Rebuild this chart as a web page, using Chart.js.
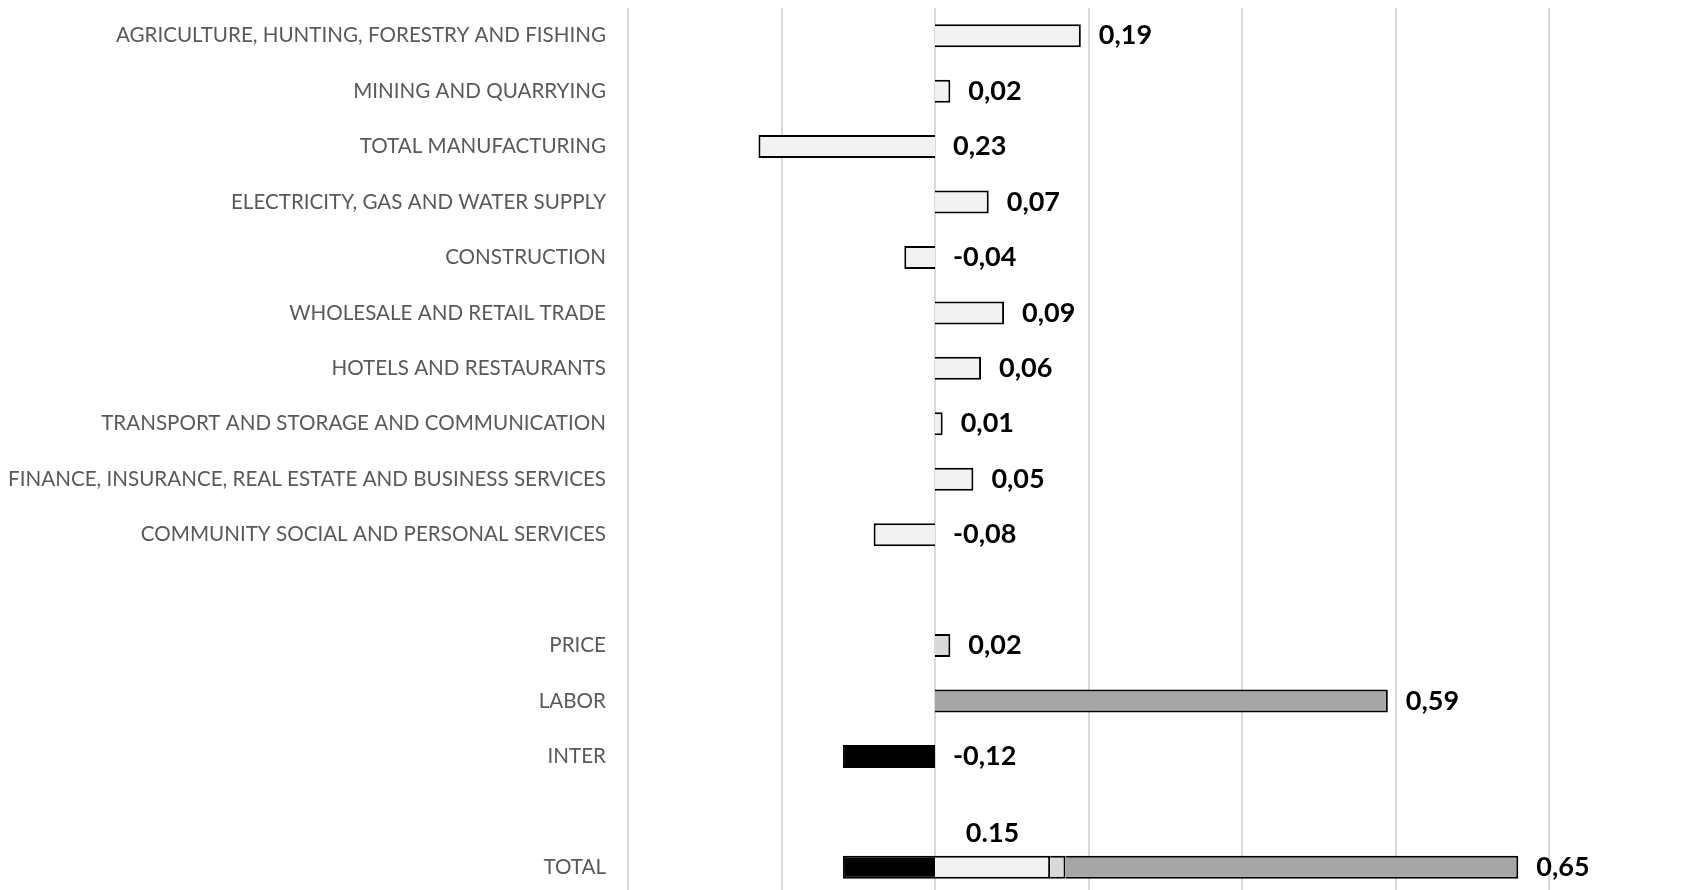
<!DOCTYPE html>
<html>
<head>
<meta charset="utf-8">
<script src="https://cdn.jsdelivr.net/npm/chart.js@4.4.1/dist/chart.umd.min.js"></script>
<style>
  html, body { margin: 0; padding: 0; background: #fff; overflow: hidden; }
  #wrap { width: 1696px; height: 890px; overflow: hidden; }
</style>
</head>
<body>
<div id="wrap"><canvas id="chart" width="1696" height="895"></canvas></div>
<script>
// categories, top to bottom (empty strings are the gaps between groups)
const categories = [
    'AGRICULTURE, HUNTING, FORESTRY AND FISHING',
    'MINING AND QUARRYING',
    'TOTAL MANUFACTURING',
    'ELECTRICITY, GAS AND WATER SUPPLY',
    'CONSTRUCTION',
    'WHOLESALE AND RETAIL TRADE',
    'HOTELS AND RESTAURANTS',
    'TRANSPORT AND STORAGE AND COMMUNICATION',
    'FINANCE, INSURANCE, REAL ESTATE AND BUSINESS SERVICES',
    'COMMUNITY SOCIAL AND PERSONAL SERVICES',
    '',
    'PRICE',
    'LABOR',
    'INTER',
    '',
    'TOTAL'
];

const sectorValues = [0.19, 0.02, -0.23, 0.07, -0.04, 0.09, 0.06, 0.01, 0.05, -0.08, null, null, null, null, null, 0.15];
const priceValues  = [null, null, null, null, null, null, null, null, null, null, null, 0.02, null, null, null, 0.02];
const laborValues  = [null, null, null, null, null, null, null, null, null, null, null, null, 0.59, null, null, 0.59];
const interValues  = [null, null, null, null, null, null, null, null, null, null, null, null, null, -0.12, null, -0.12];

// labels as printed on the chart
const valueLabels = ['0,19', '0,02', '0,23', '0,07', '-0,04', '0,09', '0,06', '0,01', '0,05', '-0,08', '', '0,02', '0,59', '-0,12', '', '0,65'];
const totalSectorLabel = '0.15';

const xMin = -0.4;
const xMax = 0.8;
const xStep = 0.2;

const labelFont = 'Lato';

const valueLabelPlugin = {
    id: 'valueLabels',
    afterDatasetsDraw(chart) {
        const ctx = chart.ctx;
        const zero = chart.scales.x.getPixelForValue(0);
        ctx.save();
        ctx.font = 'bold 27px ' + labelFont;
        ctx.fillStyle = '#000';
        ctx.textBaseline = 'middle';
        ctx.textAlign = 'left';
        valueLabels.forEach((txt, i) => {
            if (!txt) return;
            let end = zero;
            let y = null;
            chart.data.datasets.forEach((ds, d) => {
                const v = ds.data[i];
                if (v == null) return;
                const bar = chart.getDatasetMeta(d).data[i];
                y = bar.y;
                if (v > 0) end = Math.max(end, bar.x);
            });
            if (y !== null) ctx.fillText(txt, end + 18, y);
        });
        // the sector share printed above the TOTAL bar
        const last = categories.length - 1;
        const seg = chart.getDatasetMeta(0).data[last];
        ctx.textAlign = 'center';
        ctx.fillText(totalSectorLabel, (seg.x + seg.base) / 2, seg.y - 34);
        ctx.restore();
    }
};

const barStyle = {
    borderColor: '#000',
    borderWidth: 2,
    categoryPercentage: 1,
    barPercentage: 0.415
};

new Chart(document.getElementById('chart').getContext('2d'), {
    type: 'bar',
    data: {
        labels: categories,
        datasets: [
            { label: 'Sectors', data: sectorValues, backgroundColor: '#F2F2F2', ...barStyle },
            { label: 'Price', data: priceValues, backgroundColor: '#D9D9D9', ...barStyle },
            { label: 'Labor', data: laborValues, backgroundColor: '#A6A6A6', ...barStyle },
            { label: 'Inter', data: interValues, backgroundColor: '#000', ...barStyle }
        ]
    },
    options: {
        indexAxis: 'y',
        responsive: false,
        animation: false,
        devicePixelRatio: 1,
        layout: { padding: { top: 8, right: 147, bottom: 0, left: 0 } },
        plugins: {
            legend: { display: false },
            tooltip: { enabled: false }
        },
        scales: {
            x: {
                stacked: true,
                min: xMin,
                max: xMax,
                ticks: { stepSize: xStep, display: false },
                grid: { color: '#D9D9D9', lineWidth: 2, drawTicks: false },
                border: { display: false },
                afterFit: (axis) => { axis.height = 0; }
            },
            y: {
                stacked: true,
                grid: { display: false, drawTicks: false },
                border: { display: false },
                ticks: {
                    color: '#595959',
                    padding: 22,
                    font: { family: labelFont, size: 20.6 }
                },
                afterFit: (axis) => {
                    axis.width = 628;
                    axis.paddingTop = 0;
                    axis.paddingBottom = 0;
                }
            }
        }
    },
    plugins: [valueLabelPlugin]
});
</script>
</body>
</html>
